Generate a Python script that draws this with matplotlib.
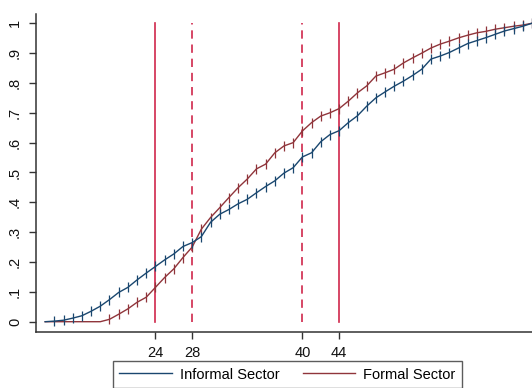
import matplotlib
matplotlib.use("Agg")
import matplotlib.pyplot as plt
from matplotlib.lines import Line2D

plt.rcParams['font.family'] = ['Liberation Sans', 'DejaVu Sans']

# Cumulative share of workers by age
ages = list(range(12, 66))
informal = [0.0, 0.002, 0.005, 0.012, 0.02, 0.035, 0.052, 0.074, 0.098, 0.115,
            0.14, 0.163, 0.185, 0.207, 0.227, 0.252, 0.265, 0.285, 0.333, 0.36,
            0.376, 0.395, 0.41, 0.432, 0.453, 0.472, 0.498, 0.516, 0.552, 0.566,
            0.603, 0.627, 0.64, 0.667, 0.69, 0.722, 0.75, 0.77, 0.789, 0.806,
            0.825, 0.846, 0.88, 0.89, 0.902, 0.917, 0.932, 0.942, 0.952, 0.963,
            0.974, 0.982, 0.99, 1.0]
formal = [0.0, 0.0, 0.0, 0.0, 0.0, 0.0, 0.0, 0.008, 0.025, 0.043,
          0.065, 0.082, 0.115, 0.148, 0.177, 0.215, 0.25, 0.31, 0.349, 0.382,
          0.416, 0.449, 0.478, 0.512, 0.528, 0.566, 0.589, 0.6, 0.639, 0.667,
          0.689, 0.7, 0.714, 0.739, 0.767, 0.79, 0.823, 0.834, 0.846, 0.867,
          0.884, 0.9, 0.917, 0.93, 0.94, 0.951, 0.96, 0.968, 0.973, 0.98,
          0.985, 0.99, 0.994, 1.0]

solid_refs = [24, 44]
dashed_refs = [28, 40]
x_ticks = [24, 28, 40, 44]
y_ticks = [0, 0.1, 0.2, 0.3, 0.4, 0.5, 0.6, 0.7, 0.8, 0.9, 1.0]
y_labels = ['0', '.1', '.2', '.3', '.4', '.5', '.6', '.7', '.8', '.9', '1']
series_names = ['Informal Sector', 'Formal Sector']

blue = '#1a476f'
maroon = '#90353b'
ref_color = '#d0284c'

fig = plt.figure(figsize=(5.32, 3.88), dpi=100)
ax = fig.add_axes([36 / 532, 1 - 332 / 388, 1 - 36 / 532, (332 - 14) / 388])

for xv in solid_refs:
    ax.plot([xv, xv], [0, 1], color=ref_color, lw=1.2, ls='-', zorder=1)
for xv in dashed_refs:
    ax.plot([xv, xv], [0, 1], color=ref_color, lw=1.2, ls=(0, (5, 3.5)), zorder=1)


def jump_marks(vals):
    # tick marks only where the cumulative share has started rising
    return [i for i in range(1, len(vals)) if vals[i] > 0]


ax.plot(ages, informal, color=blue, lw=1.0, marker='|', ms=6.5, mew=0.9,
        markevery=jump_marks(informal), zorder=3)
ax.plot(ages, formal, color=maroon, lw=1.0, marker='|', ms=6.5, mew=0.9,
        markevery=jump_marks(formal), zorder=2)

ax.set_xlim(11, 65)
ax.set_ylim(-0.0345, 1.031)

ax.set_xticks(x_ticks)
ax.set_xticklabels([str(t) for t in x_ticks], fontsize=10.5)
ax.set_yticks(y_ticks)
ax.set_yticklabels(y_labels, fontsize=10.5, rotation=90, va='center')

for side in ['top', 'right']:
    ax.spines[side].set_visible(False)
for side in ['left', 'bottom']:
    ax.spines[side].set_color('#333333')
    ax.spines[side].set_linewidth(1.1)
ax.tick_params(axis='both', length=5, width=1.0, color='#333333', labelcolor='#111111')
ax.tick_params(axis='y', pad=5)
ax.tick_params(axis='x', pad=5)

handles = [Line2D([], [], color=blue, lw=1.0), Line2D([], [], color=maroon, lw=1.0)]
leg = fig.legend(handles, series_names, loc='upper center', ncol=2,
                 bbox_to_anchor=(287.5 / 532, 1 - 361 / 388), fontsize=10.5,
                 frameon=True, fancybox=False, edgecolor='#333333',
                 handlelength=3.6, handletextpad=0.55, columnspacing=1.6,
                 borderpad=0.45, borderaxespad=0)
leg.get_frame().set_linewidth(1.0)

fig.savefig('out.png', dpi=100)
